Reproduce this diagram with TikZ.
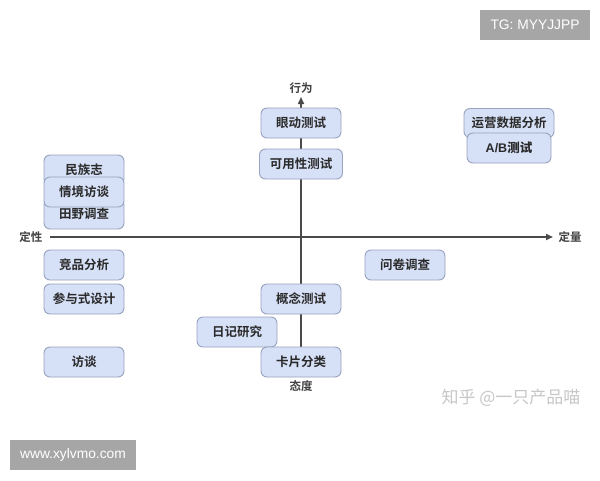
\documentclass[tikz,border=0pt]{standalone}
\usepackage{fontspec}
\setmainfont{Noto Sans CJK SC}
\newfontfamily\cjkb{Noto Sans CJK SC Bold}
\newfontfamily\latinsans{Liberation Sans}
\usetikzlibrary{arrows.meta}
\definecolor{boxfill}{HTML}{D6E0F6}
\definecolor{boxline}{HTML}{97A3BF}
\definecolor{axisc}{HTML}{4A4A4A}
\definecolor{txtc}{HTML}{2A2A2A}
\definecolor{wmgrey}{HTML}{A6A6A6}
\tikzset{
  mbox/.style={draw=boxline, fill=boxfill, line width=0.9pt, rounded corners=6pt,
    minimum width=80pt, minimum height=30pt, inner sep=0pt,
    font=\cjkb\fontsize{12.5}{13}\selectfont, text=txtc},
  axlabel/.style={font=\cjkb\fontsize{11.5}{12}\selectfont, text=black!75, inner sep=1pt},
  axline/.style={draw=axisc, line width=1.6pt, -{Triangle[length=7pt,width=6pt]}},
  tag/.style={fill=wmgrey, text=white, inner sep=0pt, font=\latinsans\fontsize{13.8}{14}\selectfont}
}
\begin{document}
\begin{tikzpicture}[x=1pt,y=-1pt]
\useasboundingbox (0,0) rectangle (600,480);
\fill[white] (0,0) rectangle (600,480);
% axis labels
\node[axlabel] (xl) at (31,237) {定性};
\node[axlabel] (xr) at (570,237) {定量};
\node[axlabel] (yt) at (301,88) {行为};
\node[axlabel] (yb) at (301,386) {态度};
\coordinate (xs) at (50,237);
\coordinate (xe) at (553,237);
\coordinate (ys) at (301,376);
\coordinate (ye) at (301,97);
\draw[axline] (xs) -- (xe);
\draw[axline] (ys) -- (ye);
% boxes
\node[mbox] (mzz) at (84,170) {民族志};
\node[mbox] (tydc) at (84,214) {田野调查};
\node[mbox] (qjft) at (84,192) {情境访谈};
\node[mbox] (jpfx) at (84,265) {竞品分析};
\node[mbox] (cysj) at (84,299) {参与式设计};
\node[mbox] (ft) at (84,362) {访谈};
\node[mbox] (ydcs) at (301,123) {眼动测试};
\node[mbox, minimum width=83pt] (kyx) at (301,164) {可用性测试};
\node[mbox] (gncs) at (301,299) {概念测试};
\node[mbox] (rjyj) at (237,332) {日记研究};
\node[mbox] (kpfl) at (301,362) {卡片分类};
\node[mbox] (wjdc) at (405,265) {问卷调查};
\node[mbox, minimum width=90pt, minimum height=29pt] (yysj) at (509,123) {运营数据分析};
\node[mbox, minimum width=84pt] (ab) at (509,148) {\latinsans\bfseries A/B\cjkb 测试};
% watermarks
\node[tag, minimum width=110pt, minimum height=30pt] (tg) at (535,25) {TG: MYYJJPP};
\node[tag, minimum width=126pt, minimum height=30pt] (www) at (73,455) {www.xylvmo.com};
\node[font=\fontsize{17}{17}\selectfont, text=black!22, inner sep=0pt] (zh) at (511,398) {知乎 @一只产品喵};
\end{tikzpicture}
\end{document}
